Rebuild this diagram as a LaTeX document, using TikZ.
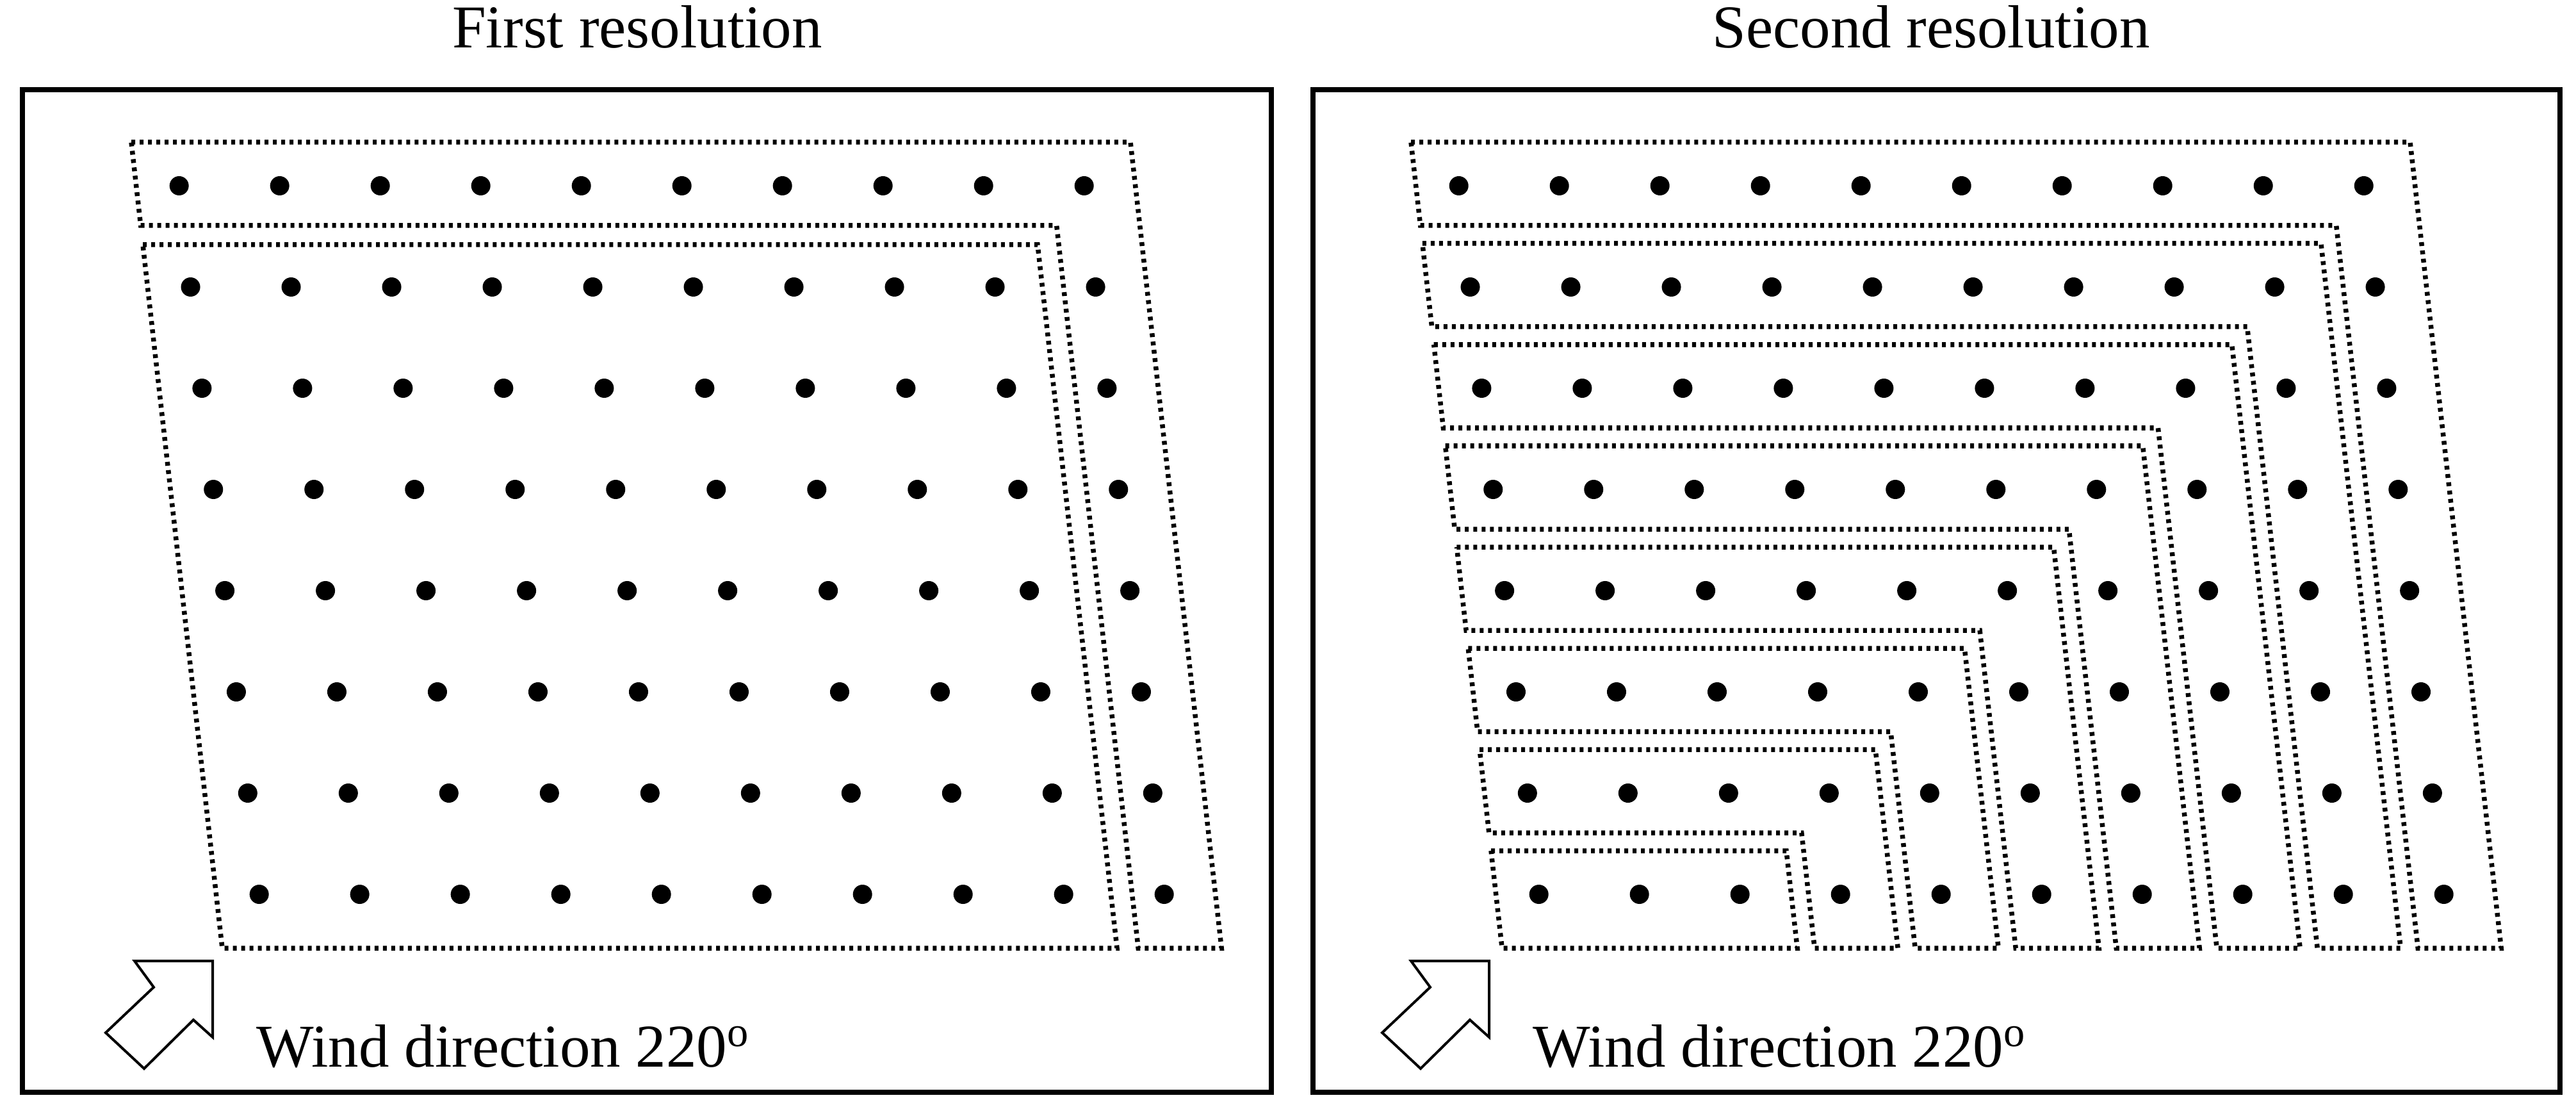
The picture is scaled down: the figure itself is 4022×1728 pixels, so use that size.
\documentclass[tikz,border=0pt]{standalone}
\usepackage{fontspec}
\setmainfont{Liberation Serif}
\newcommand\lshape[2]{% offset, row k
  \pgfmathsetmacro\yt{290+158*#2-68}
  \pgfmathsetmacro\yb{ifthenelse(#2==7,1480,290+158*#2+62)}
  \pgfmathsetmacro\uR{272+157*(9-#2)+80}
  \pgfmathsetmacro\uI{272+157*(9-#2)-50}
  \pgfmathsetmacro\aX{#1+205+0.113*(\yt-222)}
  \pgfmathsetmacro\bX{#1+\uR+0.113*(\yt-222)}
  \pgfmathsetmacro\cX{#1+\uR+0.113*(1480-222)}
  \pgfmathsetmacro\dX{#1+\uI+0.113*(1480-222)}
  \pgfmathsetmacro\eX{#1+\uI+0.113*(\yb-222)}
  \pgfmathsetmacro\fX{#1+205+0.113*(\yb-222)}
  \draw[box] (\aX,\yt) -- (\bX,\yt) -- (\cX,1480) -- (\dX,1480) -- (\eX,\yb) -- (\fX,\yb) -- cycle;
}
\begin{document}
\begin{tikzpicture}[x=0.01cm,y=-0.01cm,
  dot/.style={circle,fill=black,inner sep=0pt,minimum size=0.3cm},
  box/.style={line width=0.075cm,dash pattern=on 0.06cm off 0.07cm},
  frame/.style={line width=0.08cm},
  lbl/.style={font=\fontsize{27}{30}\selectfont,inner sep=0pt},
  warrow/.style={line width=0.04cm,line join=miter,fill=white}]
\useasboundingbox (0,0) rectangle (4022,1728);
% frames
\draw[frame] (35,140) rectangle (1985,1705);
\draw[frame] (2050,140) rectangle (3997,1705);
\node[lbl,anchor=base] (t1) at (995,75) {First resolution};
\node[lbl,anchor=base] (t2) at (3015,75) {Second resolution};
% dots
\foreach \r in {0,...,7}{\foreach \i in {0,...,9}{
  \pgfmathsetmacro\yy{290+158*\r}
  \pgfmathsetmacro\xx{272+157*\i+0.113*(\yy-222)}
  \node[dot] (L-\r-\i) at (\xx,\yy) {};
  \node[dot] (R-\r-\i) at (\xx+1998,\yy) {};
}}
% left panel boxes
\lshape{0}{0}
\draw[box] (223,382) -- (1620,382) -- (1744,1480) -- (347,1480) -- cycle;
% right panel boxes
\foreach \k in {0,...,7}{\lshape{1998}{\k}}
% wind arrows and labels
\foreach \o/\n in {0/1,1993/2}{
  \draw[warrow] (\o+210,1500) -- (\o+332,1500) -- (\o+332,1619) -- (\o+302,1592) -- (\o+225,1668) -- (\o+165,1612) -- (\o+240,1541) -- cycle;
  \node[lbl,anchor=base west] (w\n) at (\o+400,1665) {Wind direction 220\textsuperscript{o}};
}
\end{tikzpicture}
\end{document}
